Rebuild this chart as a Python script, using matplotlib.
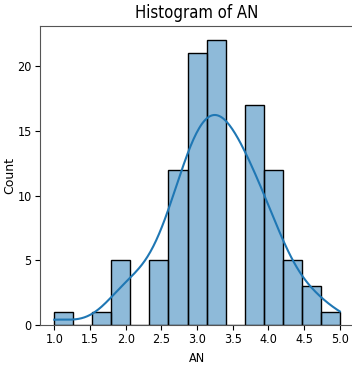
import numpy as np
import matplotlib
matplotlib.use("Agg")
import matplotlib.pyplot as plt
import seaborn as sns

# AN scores (steps of 1/3) and how many times each occurs
an_values = [1.0, 4 / 3, 5 / 3, 2.0, 7 / 3, 8 / 3, 3.0, 10 / 3, 11 / 3, 4.0, 13 / 3, 14 / 3, 5.0]
an_counts = [1, 0, 1, 5, 5, 12, 21, 22, 17, 12, 5, 3, 1]
bin_edges = [1.0 + i * 4 / 15 for i in range(16)]
x_ticks = [1.0, 1.5, 2.0, 2.5, 3.0, 3.5, 4.0, 4.5, 5.0]
y_ticks = [0, 5, 10, 15, 20]

an = np.repeat(an_values, an_counts)
# nudge exact-edge values into the bin they land in on the reference
an = np.minimum(an + 1e-9, 5.0)

fnt = dict(family='DejaVu Sans', stretch='condensed')

fig = plt.figure(figsize=(3.52, 3.68), dpi=100)
ax = fig.add_axes([0.1136, 0.1168, 0.8924, 0.8125])

sns.histplot(an, bins=bin_edges, kde=True, ax=ax, color='#1f77b4',
             edgecolor='black', linewidth=1.0, alpha=0.5)
ax.lines[0].set_linewidth(1.5)

ax.set_xlim(0.8, 5.2)
ax.set_ylim(0, 23.1)
ax.set_xticks(x_ticks)
ax.set_yticks(y_ticks)
ax.set_xticklabels([f'{t:.1f}' for t in x_ticks], fontsize=9, **fnt)
ax.set_yticklabels([str(t) for t in y_ticks], fontsize=9, **fnt)
ax.tick_params(pad=2.5)
ax.set_title('Histogram of AN', fontsize=12, pad=6, **fnt)
ax.set_xlabel('AN', fontsize=9, labelpad=4, **fnt)
ax.set_ylabel('Count', fontsize=9)
ax.yaxis.set_label_coords(-0.075, 0.5)

for s in ax.spines.values():
    s.set_color('#555555')

fig.savefig('out.png', dpi=100)
